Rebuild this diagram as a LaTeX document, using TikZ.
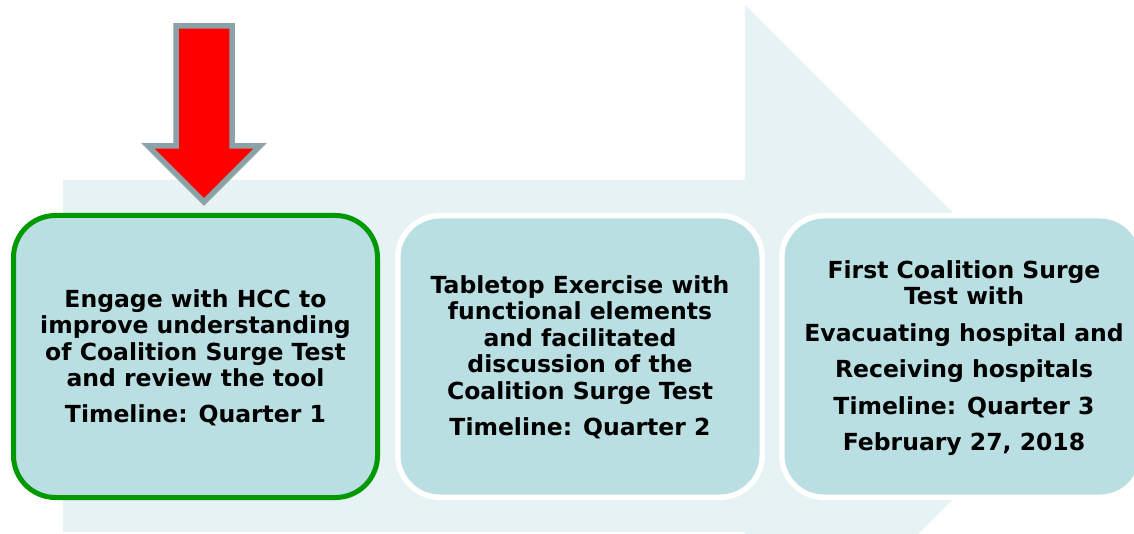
\documentclass[tikz,border=0pt]{standalone}
\usepackage{fontspec}
\setmainfont{DejaVu Sans}
\definecolor{bgarrow}{HTML}{E6F2F4}
\definecolor{boxfill}{HTML}{BADFE3}
\definecolor{grn}{HTML}{009A00}
\definecolor{arrowgray}{HTML}{8BA3A6}
\begin{document}
\begin{tikzpicture}[x=1pt,y=-1pt,
  stepbox/.style={rectangle, rounded corners=42pt, fill=boxfill, inner sep=0pt},
  txt/.style={align=center, font=\fontsize{23.5}{26.5}\selectfont\bfseries, inner sep=0pt, anchor=north, text=black}]
\useasboundingbox (0,0) rectangle (1134,534);
\begin{scope}
\clip (0,0) rectangle (1134,534);
% background big arrow
\fill[bgarrow] (63,180) -- (745,180) -- (745,5) -- (1096,356) -- (745,707) -- (745,532) -- (63,532) -- cycle;
% red pointer arrow
\draw[fill=red, draw=arrowgray, line width=5.5pt, miter limit=10] (176,26) -- (232,26) -- (232,146) -- (260,146) -- (204,202) -- (148,146) -- (176,146) -- cycle;
% boxes
\node[stepbox, draw=grn, line width=5pt, minimum width=364pt, minimum height=282pt] (b1) at (195.5,356.5) {};
\node[stepbox, draw=white, line width=5.5pt, minimum width=364.5pt, minimum height=281.5pt] (b2) at (580,356.5) {};
\node[stepbox, draw=white, line width=5.5pt, minimum width=360.5pt, minimum height=281.5pt] (b3) at (962,356.5) {};
% texts
\node[txt] (t1) at (195.5,289) {Engage with HCC to\\improve understanding\\of Coalition Surge Test\\and review the tool\\[9.5pt]Timeline: Quarter 1};
\node[txt] (t2) at (580,275) {Tabletop Exercise with\\functional elements\\and facilitated\\discussion of the\\Coalition Surge Test\\[9.5pt]Timeline: Quarter 2};
\node[txt] (t3) at (964,260) {First Coalition Surge\\Test with\\[10pt]Evacuating hospital and\\[10pt]Receiving hospitals\\[10pt]Timeline: Quarter 3\\[10pt]February 27, 2018};
\end{scope}
\end{tikzpicture}
\end{document}
